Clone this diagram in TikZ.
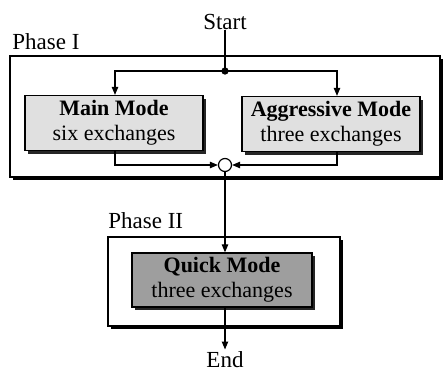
\documentclass[tikz,border=0pt]{standalone}
\usepackage{fontspec}
\setmainfont{Liberation Serif}
\usetikzlibrary{arrows.meta, positioning, calc, shadows}
\definecolor{ModeGray}{gray}{0.88}
\definecolor{QuickGray}{gray}{0.62}

\tikzset{
  phasebox/.style={draw, line width=0.6pt, fill=white,
    drop shadow={shadow xshift=1.4pt, shadow yshift=-1.4pt, fill=black, opacity=1}},
  modebox/.style={draw, line width=0.6pt, fill=ModeGray, align=center,
    font=\fontsize{11}{12.5}\selectfont, inner sep=1pt,
    minimum width=89pt, minimum height=27.5pt,
    drop shadow={shadow xshift=1.6pt, shadow yshift=-1.6pt, fill=black!85, opacity=1}},
  flow/.style={-{Triangle[length=4pt,width=3.2pt]}, line width=0.6pt},
  lbl/.style={font=\fontsize{11.5}{12}\selectfont, inner sep=0pt}
}

\begin{document}
\begin{tikzpicture}[x=0.5pt, y=-0.5pt]
        % frame of the whole picture
        \fill [white] (0,0) rectangle (445,373);
        \useasboundingbox (0,0) rectangle (445,373);
        % Phase boxes
        \draw [phasebox] (10,56) rectangle (440,177);
        \draw [phasebox] (108,237) rectangle (340,326);
        \node [lbl, anchor=west] (ph1) at (12,42) {Phase I};
        \node [lbl, anchor=west] (ph2) at (108,221) {Phase II};
        % Start, split dot and merge circle
        \node [lbl] (start) at (225,22) {Start};
        \filldraw (225,71) circle (1.6pt) coordinate (split);
        \node [draw, circle, line width=0.6pt, fill=white, minimum size=6.5pt, inner sep=0pt] (merge) at (225,165) {};
        % Modes
        \node [modebox] (main) at (114,123) {\textbf{Main Mode}\\six exchanges};
        \node [modebox] (aggr) at (331,124) {\textbf{Aggressive Mode}\\three exchanges};
        \node [modebox, fill=QuickGray, minimum width=90pt, minimum height=27pt] (quick) at (222,280)
              {\textbf{Quick Mode}\\three exchanges};
        \node [lbl] (end) at (225,360) {End};
        % columns of the side connectors
        \coordinate (lx) at (115,0);
        \coordinate (rx) at (337,0);
        % connectors
        \draw [line width=0.6pt] (start.south) -- (split);
        \draw [flow] (split) -| (lx |- main.north);
        \draw [flow] (split) -| (rx |- aggr.north);
        \draw [flow] (lx |- main.south) |- (merge.west);
        \draw [flow] (rx |- aggr.south) |- (merge.east);
        \draw [flow] (merge.south) -- (merge.south |- quick.north);
        \draw [flow] (merge.south |- quick.south) -- ([yshift=1pt]end.north);
    \end{tikzpicture}
\end{document}
